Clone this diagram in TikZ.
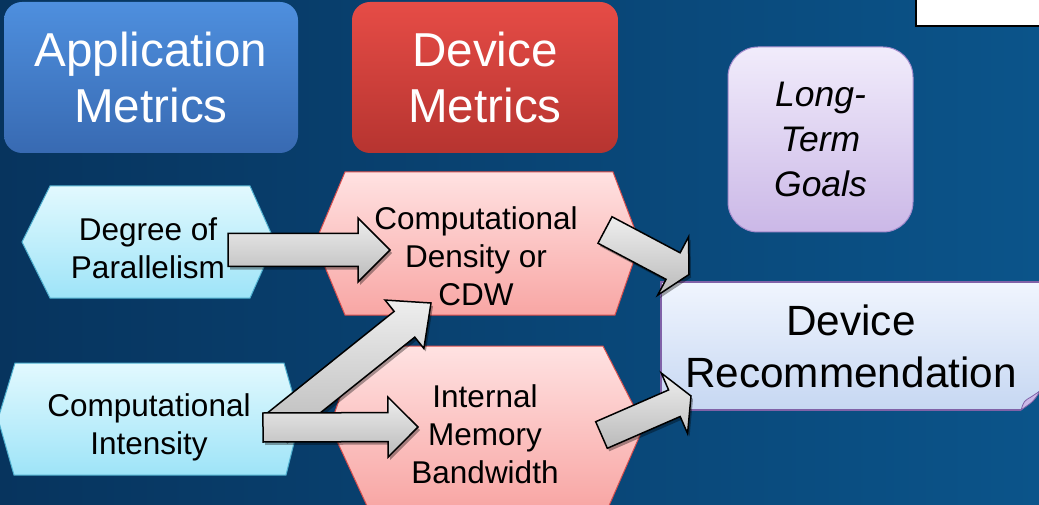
\documentclass[tikz,border=0pt]{standalone}
\usepackage{fontspec}
\setmainfont{Liberation Sans}
\usetikzlibrary{calc}
\tikzstyle{slide} = [x = 1pt, y = -1pt]
\definecolor{bgLeft}{RGB}{7,52,94}
\definecolor{bgRight}{RGB}{11,84,138}
\definecolor{appTop}{RGB}{78,143,222}
\definecolor{appBottom}{RGB}{56,106,178}
\definecolor{devTop}{RGB}{230,76,70}
\definecolor{devBottom}{RGB}{182,52,48}
\definecolor{goalTop}{RGB}{241,236,251}
\definecolor{goalBottom}{RGB}{203,184,231}
\definecolor{goalEdge}{RGB}{165,140,205}
\definecolor{cyanTop}{RGB}{226,249,254}
\definecolor{cyanBottom}{RGB}{158,228,248}
\definecolor{cyanEdge}{RGB}{78,176,208}
\definecolor{pinkTop}{RGB}{255,226,226}
\definecolor{pinkBottom}{RGB}{248,166,164}
\definecolor{pinkEdge}{RGB}{214,78,78}
\definecolor{recTop}{RGB}{240,245,254}
\definecolor{recBottom}{RGB}{198,215,242}
\definecolor{recEdge}{RGB}{128,98,168}
\definecolor{arrowTop}{RGB}{238,238,238}
\definecolor{arrowBottom}{RGB}{186,186,186}
\tikzstyle{headerBox} = [rounded corners = 18pt, minimum width = 294pt, minimum height = 151pt, align = center, text = white, font = \fontsize{47.6}{56}\selectfont]
\tikzstyle{goalBox} = [rounded corners = 30pt, minimum width = 185pt, minimum height = 185pt, align = center, draw = goalEdge, line width = 1pt, top color = goalTop, bottom color = goalBottom, font = \fontsize{35.5}{45}\selectfont\itshape]
\tikzstyle{recBox} = [minimum width = 380pt, minimum height = 128pt, align = center, draw = recEdge, line width = 1.5pt, top color = recTop, bottom color = recBottom, font = \fontsize{42.3}{52}\selectfont]
\tikzstyle{cyanHex} = [draw = cyanEdge, line width = 1pt, top color = cyanTop, bottom color = cyanBottom]
\tikzstyle{pinkHex} = [draw = pinkEdge, line width = 1pt, top color = pinkTop, bottom color = pinkBottom]
\tikzstyle{hexText} = [align = center, inner sep = 0pt, font = \fontsize{31.5}{38}\selectfont]
\tikzstyle{fatArrowStyle} = [draw = black, line width = 1.5pt, line join = miter, top color = arrowTop, bottom color = arrowBottom, preaction = {fill = black, opacity = .35, transform canvas = {shift = {(2pt,-3pt)}}}]
\newcommand{\fatArrow}[5]{\draw [fatArrowStyle] let \p1 = (#1), \p2 = (#2), \n1 = {atan2(\y2-\y1,\x2-\x1)}, \n2 = {veclen(\x2-\x1,\y2-\y1)-#5pt} in ($(\p1)+(\n1+90:#3pt)$) -- ($(\p1)+(\n1:\n2*1pt)+(\n1+90:#3pt)$) -- ($(\p1)+(\n1:\n2*1pt)+(\n1+90:#4pt)$) -- (\p2) -- ($(\p1)+(\n1:\n2*1pt)+(\n1-90:#4pt)$) -- ($(\p1)+(\n1:\n2*1pt)+(\n1-90:#3pt)$) -- ($(\p1)+(\n1-90:#3pt)$) -- cycle;}

\begin{document}
\begin{tikzpicture}[slide]
  \useasboundingbox (0,0) rectangle (1039,505);
  \clip (0,0) rectangle (1039,505);
  \shade [left color = bgLeft, right color = bgRight] (0,0) rectangle (1039,505);
  \filldraw [fill = white, draw = black, line width = 2.5pt] (916,-5) rectangle (1045,26);

  \node [headerBox, top color = appTop, bottom color = appBottom] (app) at (151,77.5) {Application\\Metrics};
  \node [headerBox, minimum width = 266pt, top color = devTop, bottom color = devBottom] (dev) at (485,77.5) {Device\\Metrics};
  \node [goalBox] (goals) at (820.5,139.5) {Long-\\Term\\Goals};
  \node [recBox] (rec) at (851,346) {Device\\Recommendation};
  \fill [bgRight] (1040,390) -- (1041,412) -- (1020,412) -- cycle;
  \filldraw [fill = goalBottom, draw = recEdge, line width = .8pt] (1021,410) .. controls (1024,401) .. (1031,397) -- (1040,391) .. controls (1034,401) .. (1021,410) -- cycle;

  \filldraw [cyanHex] (22,242) -- (50,186) -- (250,186) -- (275,242) -- (250,298) -- (50,298) -- cycle;
  \filldraw [cyanHex] (-2,419) -- (15,363) -- (284,363) -- (300,419) -- (286,475) -- (14,475) -- cycle;
  \filldraw [pinkHex] (315,243) -- (345,172) -- (613,172) -- (640,243) -- (615,315) -- (345,315) -- cycle;
  \filldraw [pinkHex] (330,426) -- (358,346) -- (603,346) -- (644,426) -- (608,508) -- (368,508) -- cycle;

  \node [hexText] (par) at (148,248) {Degree of\\Parallelism};
  \node [hexText] (ci) at (149,427) {Computational\\Intensity};
  \node [hexText] (cdw) at (476,256) {Computational\\Density or\\CDW};
  \node [hexText] (imb) at (485,434.5) {Internal\\Memory\\Bandwidth};

  \fatArrow{$(par.center)+(80,2)$}{$(cdw.center)+(-86,-6)$}{16.5}{32}{32}
  \fatArrow{$(ci.center)+(126,1)$}{$(cdw.center)+(-45,47)$}{16.5}{31}{34}
  \fatArrow{$(ci.center)+(114,0.5)$}{$(imb.center)+(-67,-7.5)$}{14.5}{30}{30}
  \fatArrow{$(cdw.center)+(129,-26)$}{$(rec.center)+(-162,-71.5)$}{15}{33}{18}
  \fatArrow{$(imb.center)+(116.5,0.5)$}{$(rec.center)+(-160,50)$}{14.5}{33}{18}
\end{tikzpicture}
\end{document}
